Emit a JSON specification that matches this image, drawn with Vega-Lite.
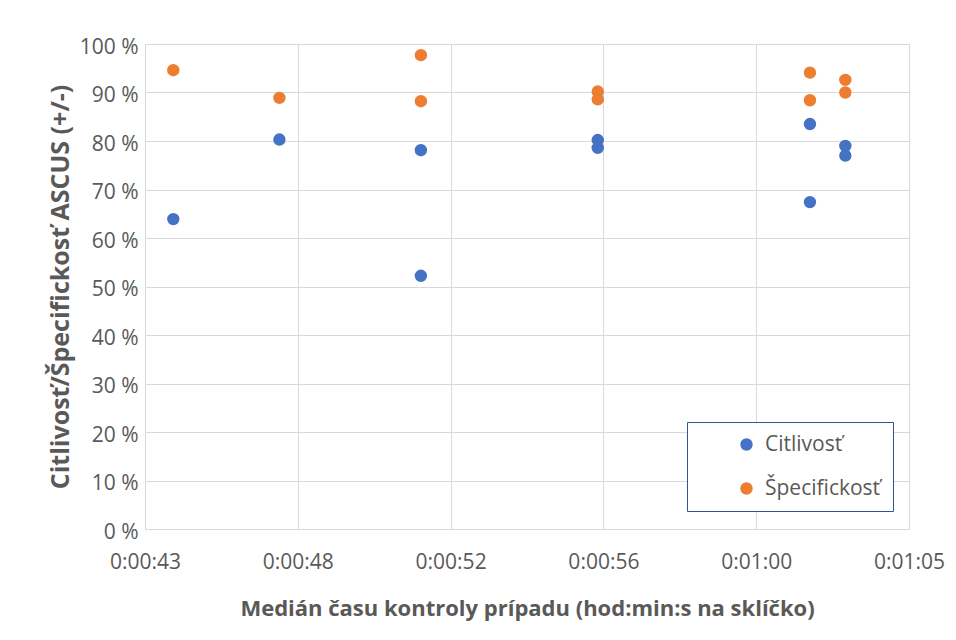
{
  "$schema": "https://vega.github.io/schema/vega-lite/v6.json",
  "autosize": "none",
  "width": 764,
  "height": 485,
  "padding": {"left": 145, "top": 44, "right": 47, "bottom": 111},
  "background": "white",
  "config": {
    "view": {"stroke": "#d9d9d9"},
    "font": "Open Sans",
    "axis": {
      "gridColor": "#d9d9d9",
      "gridWidth": 1,
      "domain": false,
      "ticks": false,
      "labelColor": "#595959",
      "labelFontSize": 21,
      "labelFont": "Open Sans",
      "titleColor": "#595959",
      "titleFont": "Open Sans",
      "titleFontWeight": "bold"
    }
  },
  "data": {
    "values": [
      {"time": 44, "value": 94.6, "series": "Špecifickosť"},
      {"time": 44, "value": 63.9, "series": "Citlivosť"},
      {"time": 47, "value": 88.9, "series": "Špecifickosť"},
      {"time": 47, "value": 80.3, "series": "Citlivosť"},
      {"time": 51, "value": 97.7, "series": "Špecifickosť"},
      {"time": 51, "value": 88.2, "series": "Špecifickosť"},
      {"time": 51, "value": 78.1, "series": "Citlivosť"},
      {"time": 51, "value": 52.2, "series": "Citlivosť"},
      {"time": 56, "value": 90.2, "series": "Špecifickosť"},
      {"time": 56, "value": 88.6, "series": "Špecifickosť"},
      {"time": 56, "value": 80.2, "series": "Citlivosť"},
      {"time": 56, "value": 78.6, "series": "Citlivosť"},
      {"time": 62, "value": 94.1, "series": "Špecifickosť"},
      {"time": 62, "value": 88.4, "series": "Špecifickosť"},
      {"time": 62, "value": 83.5, "series": "Citlivosť"},
      {"time": 62, "value": 67.4, "series": "Citlivosť"},
      {"time": 63, "value": 92.6, "series": "Špecifickosť"},
      {"time": 63, "value": 90.0, "series": "Špecifickosť"},
      {"time": 63, "value": 79.0, "series": "Citlivosť"},
      {"time": 63, "value": 77.0, "series": "Citlivosť"}
    ]
  },
  "mark": {"type": "circle", "size": 154, "opacity": 1},
  "encoding": {
    "x": {
      "field": "time",
      "type": "quantitative",
      "scale": {"domain": [43.2, 64.8], "nice": false, "zero": false},
      "axis": {
        "values": [43.2, 47.52, 51.84, 56.16, 60.48, 64.8],
        "labelExpr": "'0:' + (floor(round(datum.value)/60) < 10 ? '0' : '') + floor(round(datum.value)/60) + ':' + (round(datum.value) % 60 < 10 ? '0' : '') + (round(datum.value) % 60)",
        "labelPadding": 22,
        "labelFlush": false,
        "title": "Medián času kontroly prípadu (hod:min:s na sklíčko)",
        "titleFontSize": 22,
        "titlePadding": 26
      }
    },
    "y": {
      "field": "value",
      "type": "quantitative",
      "scale": {"domain": [0, 100], "nice": false},
      "axis": {
        "values": [0, 10, 20, 30, 40, 50, 60, 70, 80, 90, 100],
        "labelExpr": "datum.value + ' %'",
        "labelPadding": 7,
        "labelOffset": 3,
        "title": "Citlivosť/Špecifickosť ASCUS (+/-)",
        "titleFontSize": 25,
        "titlePadding": 6
      }
    },
    "color": {
      "field": "series",
      "type": "nominal",
      "scale": {"domain": ["Citlivosť", "Špecifickosť"], "range": ["#4472c4", "#ed7d31"]},
      "legend": {
        "title": null,
        "orient": "none",
        "legendX": 542,
        "legendY": 378,
        "fillColor": "white",
        "strokeColor": "#2f5597",
        "padding": 12,
        "rowPadding": 22,
        "symbolType": "circle",
        "symbolSize": 154,
        "symbolOffset": 37,
        "symbolStrokeWidth": 0,
        "labelFontSize": 21,
        "labelColor": "#595959",
        "labelFont": "Open Sans",
        "labelOffset": 8
      }
    }
  }
}
